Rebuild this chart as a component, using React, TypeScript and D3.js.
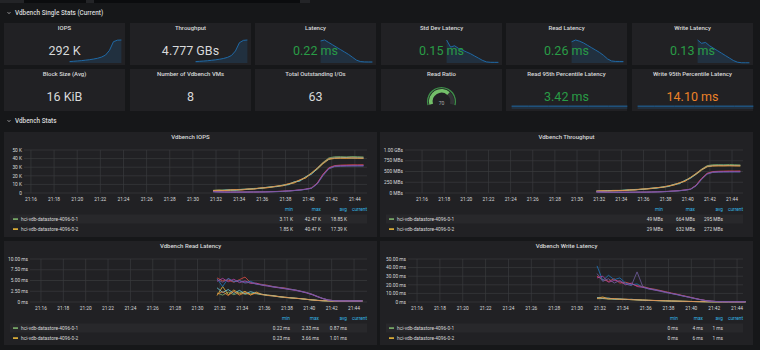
import * as d3 from "d3";

const FONT = "Roboto, 'Open Sans', sans-serif";
const BG = "#161719";
const PANEL = "#212124";
const TEXT = "#d8d9da";
const GRID = "#3a3b3e";
const GREEN = "#299c46";
const ORANGE = "#ed8128";
const SPARK = "#1f78c1";
const LEGEND_HEAD = "#33b5e5";
const SERIES_COLORS = ["#7eb26d", "#eab839", "#6ed0e0", "#ef843c", "#e24d42", "#1f78c1", "#ba43a9", "#705da0"];

// ---- single stats ----
const statTopTitles = ["IOPS", "Throughput", "Latency", "Std Dev Latency", "Read Latency", "Write Latency"];
const statTopValues = ["292 K", "4.777 GBs", "0.22 ms", "0.15 ms", "0.26 ms", "0.13 ms"];
const statBottomTitles = [
  "Block Size (Avg)",
  "Number of Vdbench VMs",
  "Total Outstanding I/Os",
  "Read Ratio",
  "Read 95th Percentile Latency",
  "Write 95th Percentile Latency",
];
const statBottomValues = ["16 KiB", "8", "63", "", "3.42 ms", "14.10 ms"];
const readRatio = 70;

const sparkTimes = [31.75, 32.75, 33.75, 34.75, 35.75, 36.75, 37.75, 38.75, 39.75, 40.75, 41.75, 42.75, 43.75, 44.75];
const sparkIops = [18, 22, 26, 30, 36, 42, 50, 60, 75, 100, 160, 270, 290, 292];
const sparkThroughput = [0.29, 0.35, 0.41, 0.47, 0.56, 0.66, 0.78, 0.94, 1.17, 1.56, 2.5, 4.22, 4.7, 4.777];
const sparkLatency = [4.6, 4.8, 4.3, 3.8, 3.3, 2.8, 2.3, 1.8, 1.2, 0.6, 0.3, 0.23, 0.22, 0.22];
const sparkStdDev = [5.2, 3.6, 3.9, 3.3, 2.9, 2.5, 2.1, 1.6, 1.1, 0.6, 0.25, 0.16, 0.15, 0.15];
const sparkReadLat = [3.6, 3.9, 3.7, 3.4, 3.0, 2.6, 2.2, 1.8, 1.3, 0.7, 0.35, 0.27, 0.26, 0.26];
const sparkWriteLat = [14, 12, 12.5, 10.5, 9, 7.5, 6, 4.5, 3, 1.5, 0.5, 0.15, 0.13, 0.13];

const p95Times = [15.7, 20, 25, 30, 35, 40, 44.75];
const sparkRead95 = [3.42, 3.42, 3.42, 3.42, 3.42, 3.42, 3.42];
const sparkWrite95 = [14.1, 14.1, 14.1, 14.1, 14.1, 14.1, 14.1];

// ---- graphs ----
const timeTicks = [16, 18, 20, 22, 24, 26, 28, 30, 32, 34, 36, 38, 40, 42, 44];
const timeLabels = ["21:16", "21:18", "21:20", "21:22", "21:24", "21:26", "21:28", "21:30", "21:32", "21:34", "21:36", "21:38", "21:40", "21:42", "21:44"];
const seriesNames = [
  "hci-vdb-datastore-4096-0-1",
  "hci-vdb-datastore-4096-0-2",
  "hci-vdb-datastore-4096-0-3",
  "hci-vdb-datastore-4096-0-4",
  "hci-vdb-datastore-4096-0-5",
  "hci-vdb-datastore-4096-0-6",
  "hci-vdb-datastore-4096-0-7",
  "hci-vdb-datastore-4096-0-8",
];
const graphTimes = [
  31.75, 32.25, 32.75, 33.25, 33.75, 34.25, 34.75, 35.25, 35.75, 36.25, 36.75, 37.25, 37.75, 38.25, 38.75, 39.25,
  39.75, 40.25, 40.75, 41.25, 41.75, 42.25, 42.75, 43.25, 43.75, 44.25, 44.75,
];

// IOPS, thousands
const iopsSeries = [
  [3.1, 3.6, 3.3, 3.9, 3.7, 4.4, 4.6, 5.3, 5.6, 6.4, 7.3, 7.9, 9.2, 10.4, 12.8, 14.9, 18.6, 23.4, 28.9, 35.6, 40.8, 42.1, 42.3, 42.0, 42.4, 42.2, 41.9],
  [2.2, 2.9, 3.1, 3.0, 3.6, 3.7, 4.2, 4.6, 5.5, 5.8, 6.6, 7.8, 8.3, 10.2, 11.6, 14.9, 17.4, 22.9, 27.6, 34.0, 39.0, 40.2, 40.4, 40.3, 40.5, 40.4, 40.2],
  [2.6, 2.4, 3.4, 3.5, 3.2, 4.1, 4.5, 4.9, 5.2, 6.3, 7.1, 7.4, 9.0, 9.6, 12.9, 13.8, 18.9, 21.8, 28.4, 34.9, 39.6, 40.9, 41.1, 41.3, 40.8, 41.0, 40.9],
  [2.9, 3.2, 2.8, 3.7, 3.9, 3.6, 4.8, 4.5, 5.9, 6.1, 6.9, 8.1, 8.7, 10.8, 12.2, 15.4, 17.9, 23.1, 29.2, 35.1, 39.9, 40.6, 40.8, 40.7, 40.9, 40.6, 40.7],
  [1.6, 1.3, 1.2, 1.1, 1.0, 1.1, 1.2, 1.1, 1.3, 1.4, 1.6, 1.7, 2.1, 2.4, 2.9, 3.5, 4.4, 5.9, 11.6, 21.9, 29.4, 31.9, 32.4, 32.6, 32.8, 32.7, 32.9],
  [1.4, 1.2, 1.1, 1.0, 1.0, 1.0, 1.1, 1.2, 1.2, 1.3, 1.5, 1.6, 1.9, 2.3, 2.8, 3.3, 4.3, 5.6, 10.8, 20.6, 28.6, 31.1, 31.5, 31.6, 31.7, 31.6, 31.8],
  [1.7, 1.4, 1.1, 1.0, 1.1, 1.0, 1.1, 1.2, 1.2, 1.3, 1.5, 1.8, 2.0, 2.5, 3.0, 3.6, 4.5, 5.7, 11.2, 21.4, 28.9, 31.3, 31.8, 32.0, 32.1, 32.2, 32.1],
  [1.5, 1.2, 1.0, 0.9, 1.0, 1.0, 1.0, 1.1, 1.2, 1.2, 1.4, 1.6, 1.9, 2.3, 2.8, 3.4, 4.2, 5.4, 10.5, 20.2, 28.0, 30.6, 31.0, 31.2, 31.3, 31.4, 31.3],
];

// throughput, MBs
const throughputSeries = [
  [49, 56, 52, 61, 58, 69, 72, 83, 87, 100, 114, 123, 144, 162, 200, 232, 290, 365, 451, 555, 636, 657, 660, 655, 664, 658, 654],
  [34, 45, 48, 47, 56, 58, 66, 72, 86, 90, 103, 122, 129, 159, 181, 232, 271, 357, 431, 530, 608, 627, 630, 629, 632, 630, 627],
  [41, 37, 53, 55, 50, 64, 70, 76, 81, 98, 111, 115, 140, 150, 201, 215, 295, 340, 443, 544, 618, 638, 641, 644, 637, 640, 638],
  [45, 50, 44, 58, 61, 56, 75, 70, 92, 95, 108, 126, 136, 168, 190, 240, 279, 360, 455, 548, 622, 633, 636, 635, 638, 633, 635],
  [25, 20, 19, 17, 16, 17, 19, 17, 20, 22, 25, 27, 33, 37, 45, 55, 69, 92, 181, 342, 459, 498, 505, 509, 512, 510, 513],
  [22, 19, 17, 16, 16, 16, 17, 19, 19, 20, 23, 25, 30, 36, 44, 51, 67, 87, 168, 321, 446, 485, 491, 493, 494, 493, 496],
  [27, 22, 17, 16, 17, 16, 17, 19, 19, 20, 23, 28, 31, 39, 47, 56, 70, 89, 175, 334, 451, 488, 496, 499, 501, 502, 501],
  [23, 19, 16, 14, 16, 16, 16, 17, 19, 19, 22, 25, 30, 36, 44, 53, 66, 84, 164, 315, 437, 477, 484, 487, 488, 490, 488],
];

// read latency, ms
const readLatSeries = [
  [2.1, 1.6, 2.3, 1.7, 2.2, 1.8, 2.0, 1.9, 1.7, 1.5, 1.4, 1.2, 1.05, 0.95, 0.85, 0.75, 0.6, 0.48, 0.36, 0.28, 0.25, 0.24, 0.23, 0.22, 0.22, 0.23, 0.22],
  [1.5, 3.6, 1.7, 2.8, 1.9, 2.5, 1.6, 2.3, 1.8, 1.6, 1.5, 1.3, 1.15, 1.0, 0.9, 0.78, 0.64, 0.5, 0.38, 0.3, 0.26, 0.24, 0.24, 0.23, 0.23, 0.24, 0.23],
  [3.3, 2.2, 2.9, 2.0, 2.7, 1.9, 2.4, 2.0, 1.8, 1.6, 1.45, 1.25, 1.1, 1.0, 0.88, 0.76, 0.62, 0.49, 0.37, 0.29, 0.25, 0.24, 0.23, 0.23, 0.22, 0.22, 0.23],
  [1.8, 2.4, 1.5, 2.5, 1.6, 2.2, 1.7, 2.1, 1.75, 1.55, 1.4, 1.25, 1.1, 0.98, 0.86, 0.77, 0.61, 0.47, 0.35, 0.28, 0.25, 0.23, 0.23, 0.22, 0.23, 0.22, 0.22],
  [5.6, 4.9, 5.1, 4.6, 5.2, 5.8, 4.5, 4.3, 4.1, 3.9, 3.6, 3.4, 3.3, 3.0, 2.8, 2.5, 2.2, 1.8, 1.25, 0.78, 0.44, 0.3, 0.27, 0.26, 0.26, 0.25, 0.26],
  [5.4, 3.6, 5.5, 4.7, 4.9, 4.6, 4.8, 4.2, 4.0, 3.8, 3.5, 3.35, 3.15, 2.95, 2.75, 2.45, 2.15, 1.75, 1.2, 0.76, 0.43, 0.3, 0.27, 0.26, 0.25, 0.25, 0.25],
  [4.8, 5.5, 4.7, 5.3, 4.5, 4.9, 4.3, 4.4, 3.9, 3.7, 3.5, 3.3, 3.1, 2.9, 2.7, 2.45, 2.1, 1.7, 1.2, 0.75, 0.42, 0.29, 0.26, 0.25, 0.25, 0.25, 0.24],
  [5.2, 4.6, 5.4, 4.8, 5.0, 4.4, 4.6, 4.1, 4.0, 3.8, 3.6, 3.4, 3.2, 3.0, 2.8, 2.5, 2.2, 1.8, 1.3, 0.8, 0.45, 0.3, 0.27, 0.26, 0.25, 0.26, 0.25],
];

// write latency, ms
const writeLatSeries = [
  [3.8, 4.0, 3.2, 3.5, 2.9, 3.1, 2.6, 2.4, 2.2, 1.9, 1.7, 1.5, 1.3, 1.1, 0.95, 0.8, 0.65, 0.5, 0.4, 0.3, 0.25, 0.2, 0.2, 0.2, 0.2, 0.2, 0.2],
  [4.5, 5.8, 3.9, 3.6, 3.4, 3.0, 2.9, 2.6, 2.3, 2.0, 1.8, 1.6, 1.4, 1.2, 1.0, 0.85, 0.7, 0.55, 0.42, 0.32, 0.26, 0.22, 0.2, 0.2, 0.2, 0.2, 0.2],
  [5.2, 4.1, 4.6, 3.3, 3.7, 2.8, 3.2, 2.5, 2.1, 1.9, 1.7, 1.5, 1.3, 1.1, 0.95, 0.8, 0.66, 0.52, 0.4, 0.31, 0.25, 0.21, 0.2, 0.2, 0.2, 0.2, 0.2],
  [4.2, 4.8, 3.6, 4.0, 3.1, 3.4, 2.7, 2.5, 2.2, 2.0, 1.75, 1.55, 1.35, 1.15, 1.0, 0.82, 0.68, 0.53, 0.41, 0.31, 0.25, 0.21, 0.2, 0.2, 0.2, 0.2, 0.2],
  [30, 26, 24, 27, 22, 23, 21, 19, 18, 16, 15, 13.5, 12, 10.5, 9, 7.5, 6, 4.5, 3, 1.8, 1.0, 0.5, 0.35, 0.3, 0.3, 0.3, 0.3],
  [42, 25, 31, 26, 28, 22, 20, 21, 17, 15.5, 14.5, 13, 11.5, 10, 8.5, 7, 5.7, 4.2, 2.8, 1.6, 0.9, 0.5, 0.35, 0.3, 0.3, 0.3, 0.3],
  [28, 30, 23, 25, 24, 20, 22, 18, 17, 16, 14, 13, 11.5, 10, 8.8, 7.2, 5.8, 4.3, 2.9, 1.7, 0.95, 0.5, 0.35, 0.3, 0.3, 0.3, 0.3],
  [33, 24, 27, 22, 25, 21, 19, 35, 18, 15, 14, 12.5, 11, 9.8, 8.5, 7, 5.6, 4.2, 2.8, 1.6, 0.9, 0.45, 0.35, 0.3, 0.3, 0.3, 0.3],
];

const iopsTicks = [0, 10, 20, 30, 40, 50];
const iopsTickLabels = ["0", "10 K", "20 K", "30 K", "40 K", "50 K"];
const throughputTicks = [0, 250, 500, 750, 1000];
const throughputTickLabels = ["0 MBs", "250 MBs", "500 MBs", "750 MBs", "1.00 GBs"];
const readLatTicks = [0, 2.5, 5, 7.5, 10];
const readLatTickLabels = ["0 ms", "2.50 ms", "5.00 ms", "7.50 ms", "10.00 ms"];
const writeLatTicks = [0, 10, 20, 30, 40, 50];
const writeLatTickLabels = ["0 ms", "10.00 ms", "20.00 ms", "30.00 ms", "40.00 ms", "50.00 ms"];

const iopsLegend = [["3.11 K", "42.47 K", "18.85 K"], ["1.85 K", "40.47 K", "17.39 K"]];
const throughputLegend = [["49 MBs", "664 MBs", "295 MBs"], ["29 MBs", "632 MBs", "272 MBs"]];
const readLatLegend = [["0.22 ms", "2.33 ms", "0.87 ms"], ["0.23 ms", "3.66 ms", "1.01 ms"]];
const writeLatLegend = [["0 ms", "4 ms", "1 ms"], ["0 ms", "6 ms", "1 ms"]];

// ---- layout ----
const STAT_X = [4, 130, 255, 381, 506, 632];
const STAT_W = 121;
const STAT_H = 42;

type SparkProps = { px: number; py: number; times: number[]; values: number[]; t0: number; t1: number; headroom?: number };

function Sparkline({ px, py, times, values, t0, t1, headroom = 1 }: SparkProps) {
  const x = d3.scaleLinear().domain([t0, t1]).range([px, px + STAT_W - 3]);
  const y = d3
    .scaleLinear()
    .domain([0, (d3.max(values) ?? 1) * headroom])
    .range([py + STAT_H - 2, py + 17]);
  const area = d3
    .area<number>()
    .x((_, i) => x(times[i]))
    .y0(py + STAT_H - 2)
    .y1((d) => y(d));
  const line = d3
    .line<number>()
    .x((_, i) => x(times[i]))
    .y((d) => y(d));
  return (
    <g>
      <path d={area(values) ?? ""} fill="rgba(31,118,189,0.18)" />
      <path d={line(values) ?? ""} fill="none" stroke={SPARK} strokeWidth={0.8} />
    </g>
  );
}

function StatPanel({ px, py, title, value, color, children }: any) {
  return (
    <g>
      <rect x={px} y={py} width={STAT_W} height={STAT_H} fill={PANEL} />
      {children}
      <text x={px + STAT_W / 2} y={py + 7.2} textAnchor="middle" fontSize={6} fontWeight={500} fill={TEXT}>
        {title}
      </text>
      {value && (
        <text x={px + STAT_W / 2} y={py + 31.5} textAnchor="middle" fontSize={12.5} fill={color}>
          {value}
        </text>
      )}
    </g>
  );
}

function Gauge({ cx, cy, value }: { cx: number; cy: number; value: number }) {
  const a0 = (-105 * Math.PI) / 180;
  const a1 = (105 * Math.PI) / 180;
  const v = d3.scaleLinear().domain([0, 100]).range([a0, a1])(value);
  const arc = d3.arc<any>();
  return (
    <g transform={`translate(${cx},${cy})`}>
      <path d={arc({ innerRadius: 13.3, outerRadius: 14.6, startAngle: a0, endAngle: a1 }) ?? ""} fill="#3f8f4a" />
      <path d={arc({ innerRadius: 8.8, outerRadius: 12.6, startAngle: a0, endAngle: v }) ?? ""} fill="#73bf69" />
      <path d={arc({ innerRadius: 8.8, outerRadius: 12.6, startAngle: v, endAngle: a1 }) ?? ""} fill="#333437" />
      <text x={0} y={3.2} textAnchor="middle" fontSize={5} fill="#a9aaab">
        {value}
      </text>
    </g>
  );
}

type GraphCfg = {
  px: number;
  py: number;
  w: number;
  h: number;
  title: string;
  plot: { l: number; r: number; t: number; b: number };
  domain: [number, number];
  ticks: number[];
  tickLabels: string[];
  series: number[][];
  legend: string[][];
  cols: number[];
};

function GraphPanel({ cfg }: { cfg: GraphCfg }) {
  const { px, py, w, h, title, plot, domain, ticks, tickLabels, series, legend, cols } = cfg;
  const x = d3.scaleLinear().domain(domain).range([plot.l, plot.r]);
  const y = d3
    .scaleLinear()
    .domain([0, ticks[ticks.length - 1]])
    .range([plot.b, plot.t]);
  const line = d3
    .line<number>()
    .x((_, i) => x(graphTimes[i]))
    .y((d) => y(d));
  const R = px + w;
  return (
    <g>
      <rect x={px} y={py} width={w} height={h} fill={PANEL} />
      <text x={px + w / 2} y={py + 7} textAnchor="middle" fontSize={6} fontWeight={500} fill={TEXT}>
        {title}
      </text>
      {ticks.map((t, i) => (
        <g key={"y" + i}>
          <line x1={plot.l} x2={plot.r} y1={y(t)} y2={y(t)} stroke={GRID} strokeWidth={0.7} />
          <text x={plot.l - 2} y={y(t) + 1.7} textAnchor="end" fontSize={4.8} fill={TEXT}>
            {tickLabels[i]}
          </text>
        </g>
      ))}
      {timeTicks.map((t, i) => (
        <g key={"x" + i}>
          <line x1={x(t)} x2={x(t)} y1={plot.t} y2={plot.b} stroke={GRID} strokeWidth={0.7} />
          <text x={x(t)} y={plot.b + 7.7} textAnchor="middle" fontSize={4.8} fill={TEXT}>
            {timeLabels[i]}
          </text>
        </g>
      ))}
      {series.map((s, i) => (
        <path key={"s" + i} d={line(s) ?? ""} fill="none" stroke={SERIES_COLORS[i]} strokeWidth={0.8} />
      ))}
      {["min", "max", "avg", "current"].map((lbl, i) => (
        <text key={lbl} x={R - cols[i]} y={py + 78.7} textAnchor="end" fontSize={4.8} fill={LEGEND_HEAD}>
          {lbl}
        </text>
      ))}
      <rect x={px + 6} y={py + 82.5} width={w - 16} height={9} fill="#28282b" />
      {legend.map((row, r) => (
        <g key={"l" + r}>
          <rect x={px + 9} y={py + 86.3 + r * 10} width={5} height={1.6} fill={SERIES_COLORS[r]} />
          <text x={px + 17} y={py + 88.7 + r * 10} fontSize={4.8} fill={TEXT}>
            {seriesNames[r]}
          </text>
          {row.map((v, c) => (
            <text key={c} x={R - cols[c]} y={py + 88.7 + r * 10} textAnchor="end" fontSize={4.8} fill={TEXT}>
              {v}
            </text>
          ))}
        </g>
      ))}
    </g>
  );
}

export default function App() {
  const topSparks = [sparkIops, sparkThroughput, sparkLatency, sparkStdDev, sparkReadLat, sparkWriteLat];
  const topColors = [TEXT, TEXT, GREEN, GREEN, GREEN, GREEN];
  const bottomColors = [TEXT, TEXT, TEXT, TEXT, GREEN, ORANGE];

  const graphs: GraphCfg[] = [
    {
      px: 4, py: 132, w: 373, h: 105, title: "Vdbench IOPS",
      plot: { l: 24, r: 367, t: 150, b: 193 }, domain: [15.4, 45.05],
      ticks: iopsTicks, tickLabels: iopsTickLabels, series: iopsSeries, legend: iopsLegend, cols: [84, 56, 30, 10],
    },
    {
      px: 380, py: 132, w: 373, h: 105, title: "Vdbench Throughput",
      plot: { l: 405, r: 743, t: 150, b: 193 }, domain: [14.46, 44.99],
      ticks: throughputTicks, tickLabels: throughputTickLabels, series: throughputSeries, legend: throughputLegend, cols: [90, 58, 30, 10],
    },
    {
      px: 4, py: 241, w: 373, h: 104, title: "Vdbench Read Latency",
      plot: { l: 30, r: 367, t: 259, b: 302 }, domain: [15.02, 45.16],
      ticks: readLatTicks, tickLabels: readLatTickLabels, series: readLatSeries, legend: readLatLegend, cols: [87, 58, 30, 10],
    },
    {
      px: 380, py: 241, w: 373, h: 104, title: "Vdbench Write Latency",
      plot: { l: 408, r: 743, t: 259, b: 302 }, domain: [15.21, 44.52],
      ticks: writeLatTicks, tickLabels: writeLatTickLabels, series: writeLatSeries, legend: writeLatLegend, cols: [75, 50, 30, 10],
    },
  ];

  return (
    <div style={{ position: "fixed", left: 0, top: 0, width: 760, height: 350, background: BG }}>
      <svg width={760} height={350} style={{ display: "block", fontFamily: FONT }}>
        <rect width={760} height={350} fill={BG} />
        <rect x={0} y={0} width={310} height={3} fill="#232427" />
        <rect x={24} y={0} width={62} height={3} fill="#0b0c0e" />
        <rect x={94} y={0} width={206} height={3} fill="#0b0c0e" />

        <path d="M7.6 12.2 L9 13.6 L10.4 12.2" fill="none" stroke={TEXT} strokeWidth={0.7} />
        <text x={15} y={15} fontSize={6.4} fontWeight={500} fill={TEXT}>
          Vdbench Single Stats (Current)
        </text>

        {STAT_X.map((px, i) => (
          <StatPanel key={"t" + i} px={px} py={23} title={statTopTitles[i]} value={statTopValues[i]} color={topColors[i]}>
            <Sparkline px={px} py={23} times={sparkTimes} values={topSparks[i]} t0={15.3} t1={44.9} />
          </StatPanel>
        ))}

        {STAT_X.map((px, i) => (
          <StatPanel key={"b" + i} px={px} py={69} title={statBottomTitles[i]} value={statBottomValues[i]} color={bottomColors[i]}>
            {i === 3 && <Gauge cx={px + STAT_W / 2} cy={101.5} value={readRatio} />}
            {i === 4 && <Sparkline px={px + 4} py={69} times={p95Times} values={sparkRead95} t0={15.3} t1={44.9} headroom={8} />}
            {i === 5 && <Sparkline px={px + 4} py={69} times={p95Times} values={sparkWrite95} t0={15.3} t1={44.9} headroom={8} />}
          </StatPanel>
        ))}

        <path d="M7.6 120.2 L9 121.6 L10.4 120.2" fill="none" stroke={TEXT} strokeWidth={0.7} />
        <text x={15} y={123} fontSize={6.4} fontWeight={500} fill={TEXT}>
          Vdbench Stats
        </text>

        {graphs.map((g, i) => (
          <GraphPanel key={i} cfg={g} />
        ))}
      </svg>
    </div>
  );
}
